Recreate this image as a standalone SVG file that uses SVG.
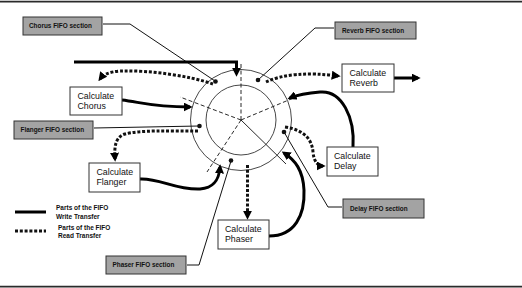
<svg xmlns="http://www.w3.org/2000/svg" width="522" height="288" viewBox="0 0 522 288">
<style>
.frame{stroke:#2a2a2a;stroke-width:1.6;fill:none}
.ring{fill:none;stroke:#333;stroke-width:0.9}
.spoke{fill:none;stroke:#111;stroke-width:0.9;stroke-dasharray:4 2.5}
.spokeS{fill:none;stroke:#111;stroke-width:0.9}
.lead{fill:none;stroke:#111;stroke-width:1}
.dot{fill:#111}
.write{fill:none;stroke:#000;stroke-width:3;marker-end:url(#ah)}
.read{fill:none;stroke:#111;stroke-width:3;stroke-dasharray:3 1.8;marker-end:url(#ah)}
.lgw{fill:none;stroke:#000;stroke-width:3}
.lgr{fill:none;stroke:#111;stroke-width:3;stroke-dasharray:3 1.8}
.gbox{fill:#a3a3a3;stroke:#333;stroke-width:1}
.wbox{fill:#fff;stroke:#333;stroke-width:1}
.gt{font-family:"Liberation Sans",Arial,sans-serif;font-weight:bold;font-size:6.4px;fill:#111}
.ct{font-family:"Liberation Sans",Arial,sans-serif;font-size:8.8px;fill:#111}
.lt{font-family:"Liberation Sans",Arial,sans-serif;font-weight:bold;font-size:6.5px;fill:#111}
</style>
<defs>
<marker id="ah" viewBox="0 0 10 10" refX="7" refY="5" markerWidth="9" markerHeight="9" markerUnits="userSpaceOnUse" orient="auto"><path d="M0,0 L10,5 L0,10 z" fill="#000"/></marker>
</defs>
<rect x="0" y="0" width="522" height="288" fill="#fff"/>
<line class="frame" x1="0" y1="1.6" x2="522" y2="1.6"/>
<line class="frame" x1="0" y1="286.6" x2="522" y2="286.6"/>

<g id="fifo-ring">
<circle class="ring" cx="241" cy="120" r="50.5"/>
<circle class="ring" cx="241" cy="120" r="35"/>
<line class="spoke" x1="241" y1="120" x2="241" y2="63"/>
<line class="spoke" x1="241" y1="120" x2="180" y2="97"/>
<line class="spoke" x1="241" y1="120" x2="303" y2="94"/>
<line class="spoke" x1="241" y1="120" x2="207" y2="172"/>
<line class="spokeS" x1="241" y1="120" x2="286" y2="164"/>
</g>

<g id="connectors">
<polyline class="lead" points="103,24 130,24 215,81"/>
<circle class="dot" cx="215.5" cy="81.5" r="2.3"/>
<polyline class="lead" points="334,28 315,28 258,80"/>
<circle class="dot" cx="258" cy="80" r="2.3"/>
<polyline class="lead" points="94,128 199,126"/>
<circle class="dot" cx="199.5" cy="126" r="2.3"/>
<polyline class="lead" points="342,207 328,207 284,132"/>
<circle class="dot" cx="284" cy="132" r="2.3"/>
<polyline class="lead" points="187,265 199,265 231,161"/>
<circle class="dot" cx="231" cy="160.5" r="2.3"/>

<path class="write" d="M74,62 H236.5 V74"/>
<path class="write" d="M122,100 C140,102 152,107 190,107"/>
<path class="write" d="M140,179 C160,178 175,190 200,189 C214,188 219,180 220,167"/>
<path class="write" d="M353,147 C355,118 342,90 320,92 C306,93 297,95 290,98"/>
<path class="write" d="M269,236 C295,236 305,215 304,190 C303,170 295,160 284,153"/>
<path class="write" d="M394,78 H418"/>

<path class="read" d="M213,84 C190,76 150,70 120,71 C108,72 103,75 100,79"/>
<path class="read" d="M266,82 Q292,70 338,76"/>
<path class="read" d="M198,131 C170,131 140,130 125,134 C116,137 114,145 115,159"/>
<path class="read" d="M285,127 C305,130 312,140 313,152 C314,162 318,166 323,166"/>
<path class="read" d="M247.5,165 V217"/>
</g>

<g id="chorus-label"><rect class="gbox" x="23" y="17" width="79" height="18"/><text class="gt" x="29" y="28">Chorus FIFO section</text></g>
<g id="reverb-label"><rect class="gbox" x="335" y="22" width="81" height="17"/><text class="gt" x="342" y="32.5">Reverb FIFO section</text></g>
<g id="flanger-label"><rect class="gbox" x="14" y="121" width="79" height="18"/><text class="gt" x="20.5" y="132">Flanger FIFO section</text></g>
<g id="delay-label"><rect class="gbox" x="343" y="199" width="81" height="19"/><text class="gt" x="350" y="210.5">Delay FIFO section</text></g>
<g id="phaser-label"><rect class="gbox" x="106" y="256" width="80" height="18"/><text class="gt" x="112.5" y="267">Phaser FIFO section</text></g>

<g id="calc-chorus"><rect class="wbox" x="70" y="87" width="52" height="28"/><text class="ct" x="77.5" y="98.5">Calculate</text><text class="ct" x="77.5" y="108.5">Chorus</text></g>
<g id="calc-reverb"><rect class="wbox" x="342" y="64" width="52" height="28"/><text class="ct" x="349.5" y="75.5">Calculate</text><text class="ct" x="349.5" y="85.5">Reverb</text></g>
<g id="calc-flanger"><rect class="wbox" x="89" y="163" width="51" height="29"/><text class="ct" x="96.5" y="175">Calculate</text><text class="ct" x="96.5" y="185">Flanger</text></g>
<g id="calc-delay"><rect class="wbox" x="327" y="147" width="51" height="29"/><text class="ct" x="334" y="159">Calculate</text><text class="ct" x="334" y="169">Delay</text></g>
<g id="calc-phaser"><rect class="wbox" x="218" y="220" width="51" height="29"/><text class="ct" x="225" y="232">Calculate</text><text class="ct" x="225" y="242">Phaser</text></g>

<g id="legend">
<line class="lgw" x1="15" y1="212" x2="46" y2="212"/>
<line class="lgr" x1="15" y1="231" x2="46" y2="231"/>
<text class="lt" x="56" y="210">Parts of the FIFO</text>
<text class="lt" x="56" y="218.5">Write Transfer</text>
<text class="lt" x="58" y="230">Parts of the FIFO</text>
<text class="lt" x="58" y="238">Read Transfer</text>
</g>
</svg>
